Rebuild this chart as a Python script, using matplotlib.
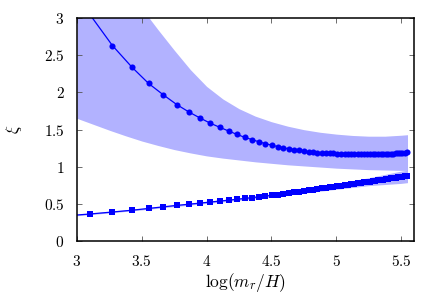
import matplotlib
matplotlib.use("Agg")
import matplotlib.pyplot as plt

plt.rcParams['mathtext.fontset'] = 'cm'
plt.rcParams['font.family'] = ['DejaVu Serif']

# x positions of the markers: log(m_r/H)
log_mr_H = [3.098, 3.273, 3.423, 3.552, 3.667, 3.770, 3.864, 3.949, 4.028, 4.101,
            4.169, 4.233, 4.293, 4.349, 4.402, 4.453, 4.501, 4.548, 4.592, 4.634,
            4.674, 4.713, 4.751, 4.787, 4.821, 4.855, 4.888, 4.919, 4.950, 4.979,
            5.008, 5.036, 5.064, 5.090, 5.116, 5.141, 5.166, 5.190, 5.213, 5.236,
            5.258, 5.280, 5.302, 5.323, 5.343, 5.363, 5.383, 5.402, 5.421, 5.440,
            5.458, 5.476, 5.494, 5.511, 5.528, 5.545]

xi_circles = [3.05, 2.63, 2.34, 2.12, 1.965, 1.835, 1.735, 1.655, 1.585, 1.53,
              1.48, 1.435, 1.395, 1.365, 1.335, 1.31, 1.29, 1.27, 1.255, 1.24,
              1.23, 1.22, 1.21, 1.20, 1.195, 1.19, 1.186, 1.183, 1.18, 1.178,
              1.176, 1.174, 1.172, 1.171, 1.17, 1.169, 1.168, 1.167, 1.166, 1.166,
              1.166, 1.166, 1.166, 1.167, 1.168, 1.169, 1.17, 1.172, 1.174, 1.176,
              1.178, 1.181, 1.184, 1.187, 1.19, 1.194]

xi_squares = [0.363, 0.390, 0.414, 0.438, 0.460, 0.479, 0.495, 0.510, 0.524, 0.537,
              0.549, 0.561, 0.572, 0.583, 0.594, 0.604, 0.614, 0.625, 0.636, 0.646,
              0.655, 0.665, 0.674, 0.683, 0.691, 0.699, 0.707, 0.715, 0.723, 0.730,
              0.737, 0.744, 0.751, 0.757, 0.764, 0.770, 0.777, 0.783, 0.789, 0.794,
              0.800, 0.806, 0.811, 0.817, 0.822, 0.827, 0.832, 0.837, 0.842, 0.847,
              0.852, 0.857, 0.861, 0.866, 0.870, 0.875]

# line for squares starts at the left edge
square_line_start_x = [3.0]
square_line_start_y = [0.35]

# uncertainty band for circles
band_x = [3.0, 3.125, 3.25, 3.375, 3.5, 3.625, 3.75, 3.875, 4.0, 4.125, 4.25,
          4.375, 4.5, 4.625, 4.75, 4.875, 5.0, 5.125, 5.25, 5.375, 5.5, 5.55]
circ_band_hi = [4.3, 4.0, 3.72, 3.42, 3.13, 2.843, 2.568, 2.305, 2.08, 1.911, 1.78,
                1.68, 1.605, 1.545, 1.498, 1.463, 1.438, 1.42, 1.41, 1.41, 1.423, 1.43]
circ_band_lo = [1.65, 1.57, 1.49, 1.415, 1.345, 1.285, 1.23, 1.185, 1.145, 1.115, 1.09,
                1.065, 1.045, 1.025, 1.01, 0.995, 0.98, 0.97, 0.96, 0.955, 0.95, 0.95]

# uncertainty band for squares
sq_band_x = [3.0, 3.25, 3.5, 3.75, 4.0, 4.25, 4.5, 4.75, 5.0, 5.25, 5.5, 5.55]
sq_band_lo = [0.34, 0.378, 0.418, 0.463, 0.505, 0.547, 0.592, 0.644, 0.695, 0.745, 0.775, 0.785]
sq_band_hi = [0.36, 0.398, 0.440, 0.487, 0.533, 0.581, 0.636, 0.704, 0.775, 0.851, 0.94, 0.952]

x_ticks = [3, 3.5, 4, 4.5, 5, 5.5]
x_ticklabels = ['3', '3.5', '4', '4.5', '5', '5.5']
y_ticks = [0, 0.5, 1, 1.5, 2, 2.5, 3]
y_ticklabels = ['0', '0.5', '1', '1.5', '2', '2.5', '3']

fig = plt.figure(figsize=(4.36, 3.05), dpi=100)
ax = fig.add_axes([0.1766, 0.2098, 0.7729, 0.7312])

blue = (0, 0, 1)
ax.fill_between(band_x, circ_band_lo, circ_band_hi, color=blue, alpha=0.3, lw=0)
ax.fill_between(sq_band_x, sq_band_lo, sq_band_hi, color=blue, alpha=0.3, lw=0)

ax.plot(log_mr_H, xi_circles, '-', color=blue, lw=0.9)
ax.plot(log_mr_H, xi_circles, 'o', color=blue, ms=4.4, mew=0)
ax.plot(square_line_start_x + log_mr_H, square_line_start_y + xi_squares, '-', color=blue, lw=0.9)
ax.plot(log_mr_H, xi_squares, 's', color=blue, ms=3.9, mew=0)

ax.set_xlim(3, 5.6)
ax.set_ylim(0, 3)
ax.set_xticks(x_ticks)
ax.set_xticklabels(['$' + t + '$' for t in x_ticklabels], fontsize=11)
ax.set_yticks(y_ticks)
ax.set_yticklabels(['$' + t + '$' for t in y_ticklabels], fontsize=11)
ax.tick_params(direction='in', length=3.5, width=0.6, top=True, right=True,
               color='#555555')
ax.tick_params(axis='x', pad=9)
ax.tick_params(axis='y', pad=9)
for s in ax.spines.values():
    s.set_linewidth(1.1)
    s.set_color('black')

ax.set_xlabel(r'$\log(m_r/H)$', fontsize=12.5, labelpad=2)
ax.set_ylabel(r'$\xi$', fontsize=12, labelpad=14)

fig.savefig('out.png', dpi=100)
